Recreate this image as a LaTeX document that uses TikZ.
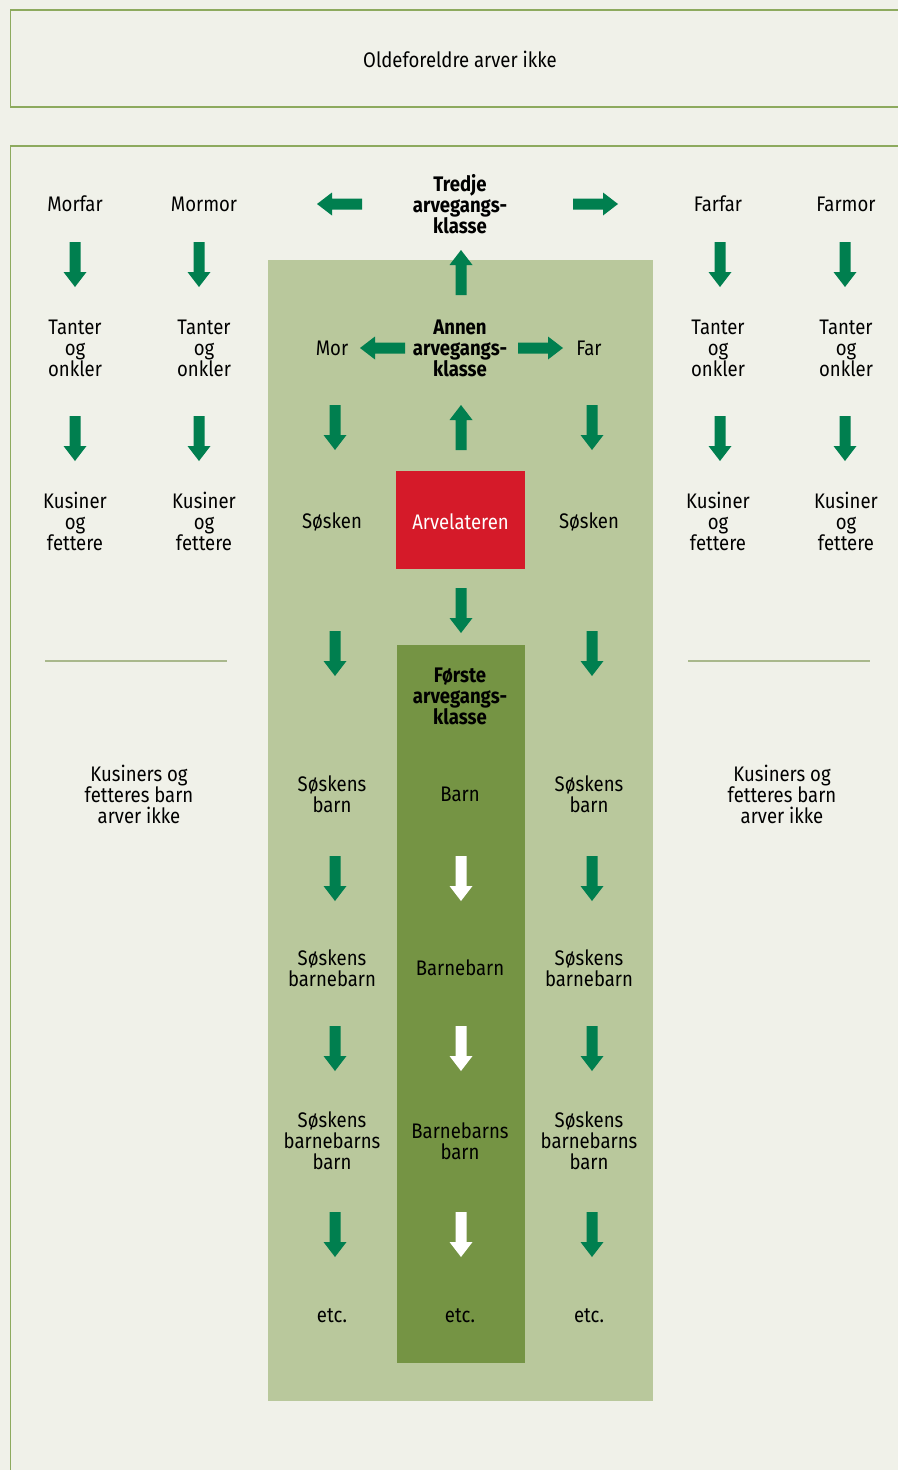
\documentclass[tikz,border=0pt]{standalone}
\usepackage{fontspec}
\setmainfont{Fira Sans}[FakeStretch=0.88]
\definecolor{bg}{HTML}{F0F1E9}
\definecolor{frame}{HTML}{8DAA5E}
\definecolor{light}{HTML}{B9C89C}
\definecolor{dark}{HTML}{759444}
\definecolor{arvred}{HTML}{D51A29}
\definecolor{arr}{HTML}{007F4F}
\definecolor{rule}{HTML}{A9B88C}
\begin{document}
\begin{tikzpicture}[x=0.75pt,y=-0.75pt,
  txt/.style={align=center,font=\fontsize{15.8}{15.75}\selectfont,inner sep=0pt},
  btxt/.style={txt,font=\fontsize{15.8}{15.75}\selectfont\bfseries},
  darr/.pic={\fill[#1] (-5.5,0) -- (-5.5,30) -- (-11.5,30) -- (0,45) -- (11.5,30) -- (5.5,30) -- (5.5,0) -- cycle;},
  uarr/.pic={\fill[#1] (-5.5,0) -- (-5.5,-30) -- (-11.5,-30) -- (0,-45) -- (11.5,-30) -- (5.5,-30) -- (5.5,0) -- cycle;},
  rarr/.pic={\fill[#1] (0,-5.5) -- (30,-5.5) -- (30,-11.5) -- (45,0) -- (30,11.5) -- (30,5.5) -- (0,5.5) -- cycle;},
  larr/.pic={\fill[#1] (0,-5.5) -- (-30,-5.5) -- (-30,-11.5) -- (-45,0) -- (-30,11.5) -- (-30,5.5) -- (0,5.5) -- cycle;},
]
\useasboundingbox (0,0) rectangle (898,1470);
\fill[bg] (0,0) rectangle (898,1470);
% frames
\draw[frame,line width=1pt] (905,10) -- (10.5,10) -- (10.5,107) -- (905,107);
\draw[frame,line width=1pt] (905,146) -- (10.5,146) -- (10.5,1480);
% panels
\fill[light] (268,260) rectangle (653,1401);
\fill[dark] (397,645) rectangle (525,1363);
\fill[arvred] (396,471) rectangle (525,569);
\node[text=white,txt] (arv) at (460.5,522) {Arvelateren};
% rules
\draw[rule,line width=0.9pt] (45,661) -- (227,661);
\draw[rule,line width=0.9pt] (688,661) -- (870,661);
% texts
\node[txt] (olde) at (460,59.5) {Oldeforeldre arver ikke};
\node[txt] (morfar) at (75,204) {Morfar};
\node[txt] (mormor) at (204,204) {Mormor};
\node[txt] (farfar) at (718,204) {Farfar};
\node[txt] (farmor) at (846,204) {Farmor};
\node[btxt] (tredje) at (460,204) {Tredje\\arvegangs-\\klasse};
\node[txt] (to1) at (75,348) {Tanter\\og\\onkler};
\node[txt] (to2) at (204,348) {Tanter\\og\\onkler};
\node[txt] (to3) at (718,348) {Tanter\\og\\onkler};
\node[txt] (to4) at (846,348) {Tanter\\og\\onkler};
\node[txt] (mor) at (332,348) {Mor};
\node[txt] (far) at (589,348) {Far};
\node[btxt] (annen) at (460,348) {Annen\\arvegangs-\\klasse};
\node[txt] (kf1) at (75,521) {Kusiner\\og\\fettere};
\node[txt] (kf2) at (204,521) {Kusiner\\og\\fettere};
\node[txt] (kf3) at (718,521) {Kusiner\\og\\fettere};
\node[txt] (kf4) at (846,521) {Kusiner\\og\\fettere};
\node[txt] (s1) at (332,522) {Søsken};
\node[txt] (s2) at (589,522) {Søsken};
\node[btxt] (forste) at (460,696) {Første\\arvegangs-\\klasse};
\node[txt] (kb1) at (139,794) {Kusiners og\\fetteres barn\\arver ikke};
\node[txt] (kb2) at (782,794) {Kusiners og\\fetteres barn\\arver ikke};
\node[txt] (sb1) at (332,794) {Søskens\\barn};
\node[txt] (barn) at (460,794) {Barn};
\node[txt] (sb2) at (589,794) {Søskens\\barn};
\node[txt] (sbb1) at (332,968) {Søskens\\barnebarn};
\node[txt] (bb) at (460,968) {Barnebarn};
\node[txt] (sbb2) at (589,968) {Søskens\\barnebarn};
\node[txt] (sbbb1) at (332,1141) {Søskens\\barnebarns\\barn};
\node[txt] (bbb) at (460,1141) {Barnebarns\\barn};
\node[txt] (sbbb2) at (589,1141) {Søskens\\barnebarns\\barn};
\node[txt] (etc1) at (332,1316) {etc.};
\node[txt] (etc2) at (460,1316) {etc.};
\node[txt] (etc3) at (589,1316) {etc.};
% arrows
\foreach \x in {75,199,720,845} {
  \pic at (\x,242) {darr=arr};
  \pic at (\x,416) {darr=arr};
}
\pic at (362,204) {larr=arr};
\pic at (573,204) {rarr=arr};
\pic at (405,348) {larr=arr};
\pic at (518,348) {rarr=arr};
\pic at (461,295) {uarr=arr};
\pic at (461,450) {uarr=arr};
\pic at (461,588) {darr=arr};
\foreach \x in {335,592} {
  \pic at (\x,405) {darr=arr};
  \pic at (\x,631) {darr=arr};
  \pic at (\x,856) {darr=arr};
  \pic at (\x,1026) {darr=arr};
  \pic at (\x,1212) {darr=arr};
}
\pic at (461,856) {darr=white};
\pic at (461,1026) {darr=white};
\pic at (461,1212) {darr=white};
\end{tikzpicture}
\end{document}
